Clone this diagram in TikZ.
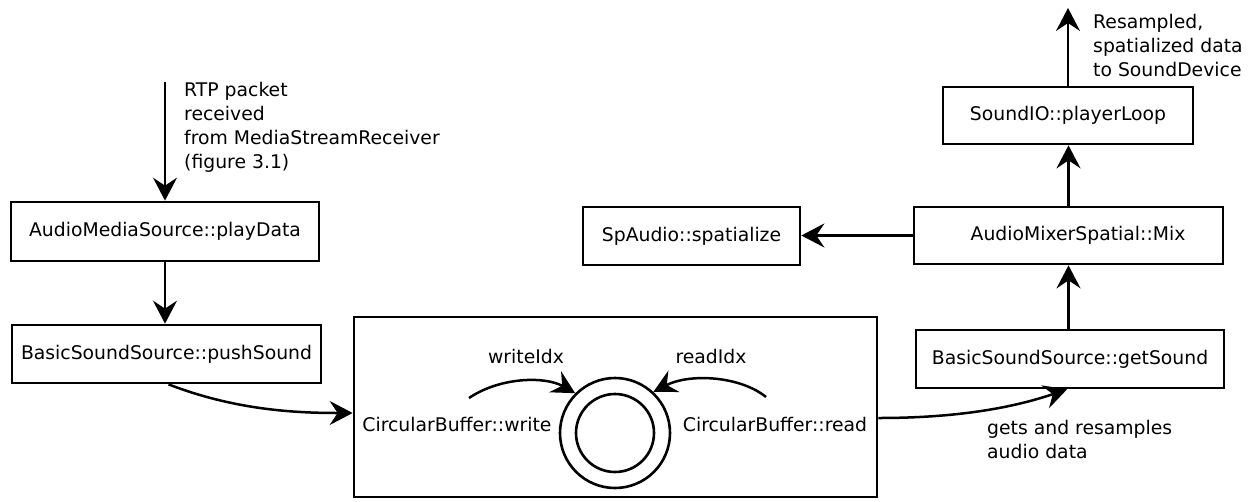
\documentclass[tikz,border=0pt]{standalone}
\usepackage{fontspec}
\setmainfont{DejaVu Sans}
\usetikzlibrary{arrows.meta}
\begin{document}
\begin{tikzpicture}[x=1pt,y=-1pt,
  font=\fontsize{18.8}{24}\selectfont,
  box/.style={draw, line width=2.7pt, rectangle, inner sep=0pt},
  lbl/.style={inner sep=0pt, align=left},
  conn/.style={line width=2.5pt, -{Stealth[length=23pt,width=24pt,inset=8pt]}},
  ringstyle/.style={draw, circle, line width=2.6pt, inner sep=0pt}]
\useasboundingbox (0,0) rectangle (1252,501);
% boxes
\node[box, minimum width=308pt, minimum height=59pt] (ams) at (165,231.5) {AudioMediaSource::playData};
\node[box, minimum width=309pt, minimum height=58pt] (push) at (166.5,354) {BasicSoundSource::pushSound};
\node[box, minimum width=523pt, minimum height=180pt] (buf) at (615.5,407) {};
\node[box, minimum width=308pt, minimum height=58pt] (gets) at (1070,359) {BasicSoundSource::getSound};
\node[box, minimum width=309pt, minimum height=57pt] (mix) at (1068.5,235.5) {\hspace*{19pt}AudioMixerSpatial::Mix};
\node[box, minimum width=250pt, minimum height=57pt] (sio) at (1068,115.5) {SoundIO::playerLoop};
\node[box, minimum width=217pt, minimum height=58pt] (spa) at (691.5,236) {SpAudio::spatialize};
% ring buffer
\node[ringstyle, minimum size=110pt] (ring) at (615,433) {};
\node[ringstyle, minimum size=78pt] (core) at (615,433) {};
\node[lbl] (cbw) at (457,424) {CircularBuffer::write};
\node[lbl] (cbr) at (775,424) {CircularBuffer::read};
\node[lbl] (widx) at (526,356) {writeIdx};
\node[lbl] (ridx) at (711,356) {readIdx};
% free labels
\node[lbl, anchor=north west] (rtp) at (184,82.5) {RTP packet\\received\\from MediaStreamReceiver\\(figure 3.1)};
\node[lbl, anchor=north west] (res) at (1093,14.5) {Resampled,\\spatialized data\\to SoundDevice};
\node[lbl, anchor=north west] (gar) at (987,420) {gets and resamples\\audio data};
% free ends
\coordinate (in) at (165,82);
\coordinate (out) at (1068,8);
\coordinate (ws) at (469,398);
\coordinate (rs) at (766,397);
% connectors
\draw[conn] (in) -- (ams.north);
\draw[conn] (ams.south) -- (ams.south |- push.north);
\draw[conn] ([xshift=2pt]push.south) .. controls (235,410) and (295,413) .. ([yshift=-6pt]buf.west);
\draw[conn] (ws) .. controls (500,377) and (545,376) .. (ring.135);
\draw[conn] (rs) .. controls (740,376) and (690,373) .. (ring.47);
\draw[conn] ([yshift=-11pt]buf.east) .. controls (960,418) and (1015,407) .. ([xshift=-3pt]gets.south);
\draw[conn] (mix.south |- gets.north) -- (mix.south);
\draw[conn] (mix.north) -- (mix.north |- sio.south);
\draw[conn] (sio.north) -- (out);
\draw[conn] (mix.west) -- (mix.west -| spa.east);
\end{tikzpicture}
\end{document}
